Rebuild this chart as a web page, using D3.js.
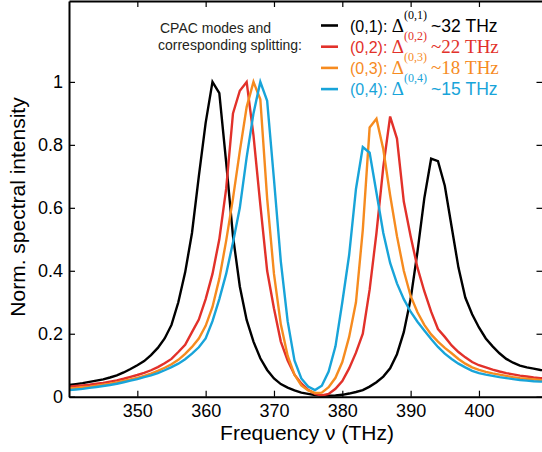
<!DOCTYPE html>
<html>
<head>
<meta charset="utf-8">
<script src="https://cdn.jsdelivr.net/npm/d3@7/dist/d3.min.js"></script>
<style>
  body { margin: 0; background: #fff; }
  svg { display: block; font-family: "Liberation Sans", Arial, Helvetica, sans-serif; }
</style>
</head>
<body>
<svg id="chart" width="542" height="452"></svg>
<script>
// frequency grid (THz)
var freq = [340, 341, 342, 343, 344, 345, 346, 347, 348, 349,
  350, 351, 352, 353, 354, 355, 356, 357, 358, 359,
  360, 361, 362, 363, 364, 365, 366, 367, 368, 369,
  370, 371, 372, 373, 374, 375, 376, 377, 378, 379,
  380, 381, 382, 383, 384, 385, 386, 387, 388, 389,
  390, 391, 392, 393, 394, 395, 396, 397, 398, 399,
  400, 401, 402, 403, 404, 405, 406, 407, 408, 409, 410];

// normalized spectra
var mode01 = [0.037, 0.040, 0.043, 0.047, 0.051, 0.055, 0.061, 0.068, 0.077, 0.088,
  0.100, 0.113, 0.132, 0.155, 0.185, 0.228, 0.300, 0.395, 0.520, 0.700,
  0.870, 1.000, 0.964, 0.745, 0.510, 0.350, 0.244, 0.175, 0.122, 0.085,
  0.058, 0.040, 0.029, 0.020, 0.013, 0.009, 0.005, 0.003, 0.003, 0.004,
  0.006, 0.010, 0.015, 0.021, 0.032, 0.046, 0.064, 0.090, 0.135, 0.205,
  0.310, 0.460, 0.630, 0.756, 0.748, 0.670, 0.540, 0.410, 0.315, 0.262,
  0.220, 0.185, 0.160, 0.138, 0.120, 0.108, 0.099, 0.093, 0.089, 0.085, 0.082];
var mode02 = [0.032, 0.034, 0.036, 0.038, 0.041, 0.044, 0.048, 0.052, 0.057, 0.063,
  0.069, 0.076, 0.084, 0.094, 0.106, 0.120, 0.142, 0.165, 0.205, 0.245,
  0.310, 0.390, 0.500, 0.660, 0.900, 0.972, 1.000, 0.830, 0.610, 0.400,
  0.280, 0.175, 0.115, 0.070, 0.042, 0.022, 0.009, 0.004, 0.009, 0.025,
  0.050, 0.090, 0.140, 0.200, 0.340, 0.520, 0.730, 0.890, 0.820, 0.620,
  0.510, 0.410, 0.335, 0.270, 0.215, 0.190, 0.163, 0.142, 0.125, 0.110,
  0.100, 0.093, 0.086, 0.080, 0.075, 0.071, 0.067, 0.064, 0.061, 0.059, 0.057];
var mode03 = [0.027, 0.028, 0.030, 0.032, 0.035, 0.038, 0.041, 0.045, 0.050, 0.055,
  0.060, 0.066, 0.073, 0.082, 0.092, 0.103, 0.117, 0.136, 0.158, 0.185,
  0.225, 0.285, 0.375, 0.495, 0.630, 0.780, 0.920, 1.000, 0.945, 0.630,
  0.390, 0.230, 0.130, 0.070, 0.036, 0.020, 0.012, 0.013, 0.030, 0.060,
  0.110, 0.190, 0.300, 0.530, 0.855, 0.883, 0.786, 0.640, 0.510, 0.400,
  0.320, 0.268, 0.228, 0.198, 0.175, 0.155, 0.138, 0.120, 0.105, 0.093,
  0.085, 0.079, 0.074, 0.070, 0.066, 0.062, 0.059, 0.057, 0.055, 0.053, 0.052];
var mode04 = [0.021, 0.023, 0.025, 0.028, 0.031, 0.034, 0.037, 0.041, 0.046, 0.051,
  0.056, 0.062, 0.068, 0.075, 0.084, 0.094, 0.105, 0.119, 0.137, 0.157,
  0.185, 0.240, 0.310, 0.390, 0.490, 0.600, 0.760, 0.900, 1.000, 0.940,
  0.690, 0.430, 0.240, 0.115, 0.058, 0.032, 0.021, 0.035, 0.080, 0.160,
  0.300, 0.450, 0.660, 0.793, 0.775, 0.648, 0.520, 0.425, 0.360, 0.310,
  0.270, 0.238, 0.210, 0.183, 0.158, 0.137, 0.120, 0.105, 0.093, 0.082,
  0.075, 0.070, 0.066, 0.062, 0.059, 0.056, 0.053, 0.051, 0.049, 0.048, 0.047];

var modeNames = ["(0,1)", "(0,2)", "(0,3)", "(0,4)"];
var splitting = ["~32 THz", "~22 THz", "~18 THz", "~15 THz"];
var xTicks = [350, 360, 370, 380, 390, 400];
var yTicks = [0, 0.2, 0.4, 0.6, 0.8, 1];

var series = [mode01, mode02, mode03, mode04];
var colors = ["#000000", "#e2312a", "#f68b1f", "#18a4d9"];
var serifSplit = [false, true, true, false];
var serif = "'Liberation Serif', 'Times New Roman', serif";
var sans = "'Liberation Sans', Arial, sans-serif";

var svg = d3.select("#chart");
var plotLeft = 69, plotRight = 542.5, plotTop = 1, plotBottom = 396.7;

var x = d3.scaleLinear().domain([340, 409.3]).range([plotLeft, plotRight]);
var y = d3.scaleLinear().domain([0, 1.257]).range([plotBottom, plotTop]);

svg.append("clipPath").attr("id", "plotclip")
  .append("rect")
  .attr("x", plotLeft).attr("y", plotTop)
  .attr("width", plotRight - plotLeft).attr("height", plotBottom - plotTop);

var line = d3.line()
  .x(function (d, i) { return x(freq[i]); })
  .y(function (d) { return y(d); });

svg.append("g")
  .attr("clip-path", "url(#plotclip)")
  .selectAll("path")
  .data(series)
  .enter()
  .append("path")
  .attr("d", line)
  .attr("fill", "none")
  .attr("stroke", function (d, i) { return colors[i]; })
  .attr("stroke-width", 2.4)
  .attr("stroke-linejoin", "miter");

// axes, ticks pointing inward
var styleAxis = function (g) {
  g.select(".domain").attr("stroke", "#000").attr("stroke-width", 2);
  g.selectAll(".tick line").attr("stroke", "#000").attr("stroke-width", 1.2);
  g.selectAll(".tick text").attr("fill", "#000").style("font-size", "18px")
    .style("font-family", sans);
};

svg.append("g")
  .attr("transform", "translate(0," + plotBottom + ")")
  .call(d3.axisBottom(x).tickValues(xTicks).tickSize(-6).tickSizeOuter(0).tickPadding(8))
  .call(styleAxis);

svg.append("g")
  .attr("transform", "translate(0," + plotTop + ")")
  .call(d3.axisTop(x).tickValues(xTicks).tickSize(-6).tickSizeOuter(0).tickFormat(""))
  .call(styleAxis);

svg.append("g")
  .attr("transform", "translate(" + plotLeft + ",0)")
  .call(d3.axisLeft(y).tickValues(yTicks).tickSize(-6).tickSizeOuter(0).tickPadding(6)
    .tickFormat(function (d) { return d === 0 || d === 1 ? d : d3.format(".1f")(d); }))
  .call(styleAxis);

svg.append("g")
  .attr("transform", "translate(" + plotRight + ",0)")
  .call(d3.axisRight(y).tickValues(yTicks).tickSize(-6).tickSizeOuter(0).tickFormat(""))
  .call(styleAxis);

// axis titles
svg.append("text")
  .attr("x", 307).attr("y", 440)
  .attr("text-anchor", "middle")
  .style("font-size", "21px")
  .text("Frequency \u03bd (THz)");

svg.append("text")
  .attr("transform", "translate(25,207) rotate(-90)")
  .attr("text-anchor", "middle")
  .style("font-size", "21px")
  .text("Norm. spectral intensity");

// legend heading
var head = svg.append("text").style("font-size", "14px").attr("fill", "#231f20");
head.append("tspan").attr("x", 160).attr("y", 33).text("CPAC modes and");
head.append("tspan").attr("x", 158).attr("y", 50).text("corresponding splitting:");

// legend entries
var legend = svg.append("g")
  .selectAll("g")
  .data(modeNames)
  .enter()
  .append("g")
  .attr("transform", function (d, i) { return "translate(0," + (i * 21.2) + ")"; });

legend.append("line")
  .attr("x1", 321).attr("x2", 338)
  .attr("y1", 25.5).attr("y2", 25.5)
  .attr("stroke", function (d, i) { return colors[i]; })
  .attr("stroke-width", 2.6);

var lt = legend.append("text")
  .attr("x", 350).attr("y", 31.5)
  .attr("fill", function (d, i) { return colors[i]; })
  .style("font-size", "16px");

lt.append("tspan").text(function (d) { return d + ": "; });
lt.append("tspan")
  .style("font-family", serif)
  .style("font-size", "19px")
  .text("\u0394");
lt.append("tspan")
  .attr("dy", -13)
  .style("font-family", serif)
  .style("font-size", "12px")
  .text(function (d) { return d; });
lt.append("tspan")
  .attr("x", 431).attr("dy", 13)
  .style("font-family", function (d, i) { return serifSplit[i] ? serif : sans; })
  .style("font-size", function (d, i) { return serifSplit[i] ? "19px" : "17.5px"; })
  .text(function (d, i) { return splitting[i]; });
</script>
</body>
</html>
